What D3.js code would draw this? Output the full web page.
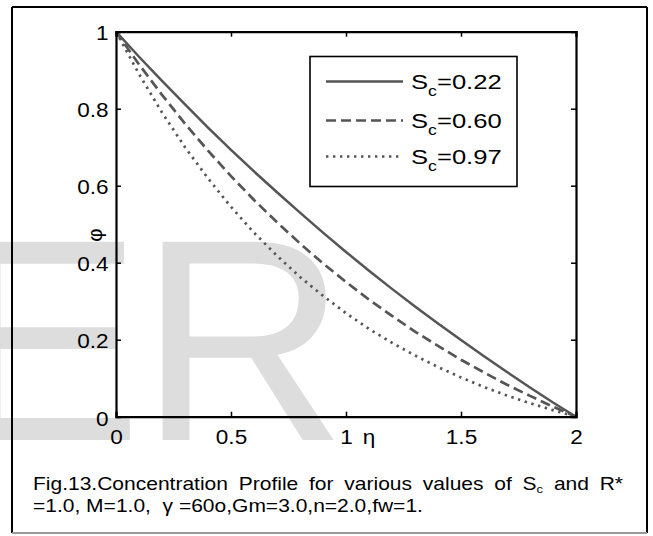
<!DOCTYPE html>
<html>
<head>
<meta charset="utf-8">
<script src="https://cdn.jsdelivr.net/npm/d3@7/dist/d3.min.js"></script>
<style>
  html, body { margin: 0; padding: 0; background: #fff; }
  svg { display: block; }
  text { font-family: "Liberation Sans", Arial, sans-serif; }
</style>
</head>
<body>
<svg id="chart" width="653" height="536"></svg>
<script>
// ---- data ----
const eta = [0, 0.1, 0.2, 0.3, 0.4, 0.5, 0.6, 0.7, 0.8, 0.9, 1.0,
             1.1, 1.2, 1.3, 1.4, 1.5, 1.6, 1.7, 1.8, 1.9, 2.0];
const phiSc022 = [1.000, 0.935, 0.872, 0.811, 0.751, 0.693, 0.637, 0.583, 0.530, 0.478, 0.428,
                  0.379, 0.332, 0.286, 0.242, 0.199, 0.157, 0.116, 0.076, 0.037, 0.000];
const phiSc060 = [1.000, 0.915, 0.836, 0.761, 0.691, 0.625, 0.563, 0.505, 0.450, 0.398, 0.350,
                  0.304, 0.262, 0.221, 0.184, 0.148, 0.115, 0.083, 0.054, 0.026, 0.000];
const phiSc097 = [1.000, 0.890, 0.790, 0.700, 0.619, 0.545, 0.478, 0.418, 0.363, 0.314, 0.269,
                  0.228, 0.192, 0.159, 0.129, 0.102, 0.077, 0.055, 0.035, 0.017, 0.000];
const seriesNames = ["0.22", "0.60", "0.97"];
const xTicks = [0, 0.5, 1, 1.5, 2];
const yTicks = [0, 0.2, 0.4, 0.6, 0.8, 1];
const captionLine1 = ["Fig.13.Concentration Profile for various values of ", "S", "c", " and  R*"];
const captionLine2 = "=1.0, M=1.0,  \u03b3 =60o,Gm=3.0,n=2.0,fw=1.";

// ---- layout ----
const svg = d3.select("#chart");
const L = 116, R = 576, T = 31.7, B = 416.7;
const x = d3.scaleLinear().domain([0, 2]).range([L, R]);
const y = d3.scaleLinear().domain([0, 1]).range([B, T]);
const lineColor = "#555";
const styles = [
  { dash: null, width: 2.5 },
  { dash: "10,5", width: 2.7 },
  { dash: "2.4,4.6", width: 2.7 }
];
const sx = 1.1;          // horizontal stretch of the figure's lettering

// watermark
svg.append("text")
  .attr("transform", "translate(-50,440)")
  .attr("font-size", 288)
  .attr("fill", "#dddddd")
  .text("E");
svg.append("text")
  .attr("transform", "translate(139,440)")
  .attr("font-size", 288)
  .attr("fill", "#dddddd")
  .text("R");

// outer frame
svg.append("line").attr("x1", 12).attr("x2", 647).attr("y1", 7).attr("y2", 7).attr("stroke", "#000").attr("stroke-width", 2);
svg.append("line").attr("x1", 12).attr("x2", 12).attr("y1", 7).attr("y2", 533).attr("stroke", "#000").attr("stroke-width", 2);
svg.append("line").attr("x1", 647).attr("x2", 647).attr("y1", 7).attr("y2", 533).attr("stroke", "#000").attr("stroke-width", 2);
svg.append("line").attr("x1", 12).attr("x2", 647).attr("y1", 533).attr("y2", 533).attr("stroke", "#999").attr("stroke-width", 2);

// curves
const data = [phiSc022, phiSc060, phiSc097];
const lineGen = d3.line().x((d, i) => x(eta[i])).y(d => y(d));
data.forEach((s, k) => {
  svg.append("path")
    .datum(s)
    .attr("d", lineGen)
    .attr("fill", "none")
    .attr("stroke", lineColor)
    .attr("stroke-width", styles[k].width)
    .attr("stroke-dasharray", styles[k].dash);
});

// axes (inward ticks on all four sides)
const tickLen = 5;
const fs = 20.5;
const gB = svg.append("g").attr("transform", `translate(0,${B})`)
  .call(d3.axisBottom(x).tickValues(xTicks).tickSize(-tickLen).tickFormat(d3.format("")));
const gT = svg.append("g").attr("transform", `translate(0,${T})`)
  .call(d3.axisTop(x).tickValues(xTicks).tickSize(-tickLen).tickFormat(""));
const gL = svg.append("g").attr("transform", `translate(${L},0)`)
  .call(d3.axisLeft(y).tickValues(yTicks).tickSize(-tickLen).tickFormat(d3.format("")));
const gR = svg.append("g").attr("transform", `translate(${R},0)`)
  .call(d3.axisRight(y).tickValues(yTicks).tickSize(-tickLen).tickFormat(""));
[gB, gT, gL, gR].forEach(g => {
  g.select(".domain").attr("stroke", "#000").attr("stroke-width", 2.2);
  g.selectAll(".tick line").attr("stroke", "#000").attr("stroke-width", 1.5);
  g.selectAll("text").attr("font-size", fs).attr("fill", "#000")
    .attr("font-family", "Liberation Sans, Arial, sans-serif");
});
gB.selectAll(".tick text").attr("y", 13).attr("dy", "0.71em")
  .attr("transform", `scale(${sx},1)`);
gL.selectAll(".tick text").attr("x", -7.5 / sx).attr("dy", "0.36em")
  .attr("transform", `scale(${sx},1)`);
gL.selectAll(".tick").filter(d => d === 0).select("text").attr("dy", "0.44em");

// axis labels
svg.append("text")
  .attr("transform", `translate(${x(1) + 23},${B + 13}) scale(${sx},1)`)
  .attr("dy", "0.71em")
  .attr("text-anchor", "middle").attr("font-size", fs)
  .text("\u03b7");
svg.append("text")
  .attr("transform", `translate(102,235) rotate(-90)`)
  .attr("text-anchor", "middle").attr("font-size", fs)
  .text("\u03c6");

// legend
const lg = svg.append("g");
lg.append("rect").attr("x", 310).attr("y", 56.5).attr("width", 207).attr("height", 130)
  .attr("fill", "#fff").attr("stroke", "#000").attr("stroke-width", 1.6);
const rowY = [81.5, 120.5, 156.5];
seriesNames.forEach((name, k) => {
  lg.append("line").attr("x1", 326).attr("x2", 403).attr("y1", rowY[k]).attr("y2", rowY[k])
    .attr("stroke", lineColor).attr("stroke-width", styles[k].width)
    .attr("stroke-dasharray", styles[k].dash);
  const t = lg.append("text")
    .attr("transform", `translate(411,${rowY[k] + 7.5}) scale(1.22,1)`)
    .attr("font-size", 21);
  t.append("tspan").text("S");
  t.append("tspan").attr("font-size", 14.5).attr("dy", 6.5).text("c");
  t.append("tspan").attr("dy", -6.5).text("=" + name);
});

// caption
const cs = 1.13;
const c1 = svg.append("text")
  .attr("transform", `translate(33,490) scale(${cs},1)`)
  .attr("font-size", 18.6);
c1.append("tspan").text(captionLine1[0]);
c1.append("tspan").text(captionLine1[1]);
c1.append("tspan").attr("font-size", 11.5).attr("dy", 3).text(captionLine1[2]);
c1.append("tspan").attr("dy", -3).text(captionLine1[3]);
const target = (628 - 33) / cs;
const natural = c1.node().getComputedTextLength();
const nSpaces = (captionLine1.join("").match(/ /g) || []).length;
c1.attr("word-spacing", Math.max(0, (target - natural) / nSpaces));
svg.append("text")
  .attr("transform", `translate(33,512) scale(${cs},1)`)
  .attr("font-size", 18.6)
  .style("white-space", "pre").text(captionLine2);
</script>
</body>
</html>
